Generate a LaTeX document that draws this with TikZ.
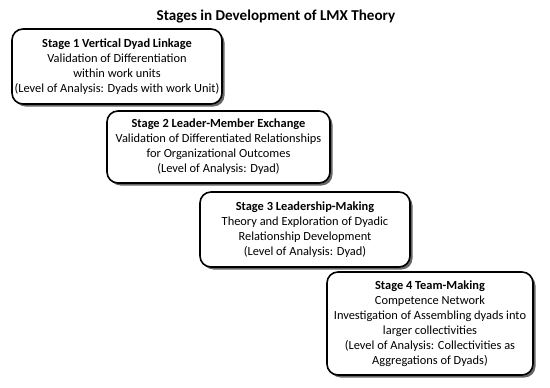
\documentclass[tikz,border=0pt]{standalone}
\usepackage{fontspec}
\setmainfont{Carlito}
\usetikzlibrary{shadows}
\begin{document}
\begin{tikzpicture}[x=1pt,y=-1pt,
  stagebox/.style={draw=black, line width=1.6pt, rounded corners=11pt, fill=white,
    align=center, inner sep=2pt,
    font=\fontsize{12.4}{15}\selectfont,
    drop shadow={shadow xshift=2.5pt, shadow yshift=-2.5pt, fill=black, opacity=0.6}},
  titletext/.style={font=\bfseries\fontsize{15.1}{18}\selectfont}]
\useasboundingbox (0,0) rectangle (550,388);
\node[titletext] (title) at (276,16) {Stages in Development of LMX Theory};
\node[stagebox, minimum width=210pt, minimum height=75pt] (s1) at (117,66.5)
  {\textbf{Stage 1 Vertical Dyad Linkage}\\Validation of Differentiation\\within work units\\(Level of Analysis: Dyads with work Unit)};
\node[stagebox, minimum width=223pt, minimum height=72pt] (s2) at (218.5,147)
  {\textbf{Stage 2 Leader-Member Exchange}\\Validation of Differentiated Relationships\\for Organizational Outcomes\\(Level of Analysis: Dyad)};
\node[stagebox, minimum width=210pt, minimum height=75pt] (s3) at (305,229.5)
  {\textbf{Stage 3 Leadership-Making}\\Theory and Exploration of Dyadic\\Relationship Development\\(Level of Analysis: Dyad)};
\node[stagebox, minimum width=206pt, minimum height=103pt] (s4) at (430,323.5)
  {\textbf{Stage 4 Team-Making}\\Competence Network\\Investigation of Assembling dyads into\\larger collectivities\\(Level of Analysis: Collectivities as\\Aggregations of Dyads)};
\end{tikzpicture}
\end{document}
